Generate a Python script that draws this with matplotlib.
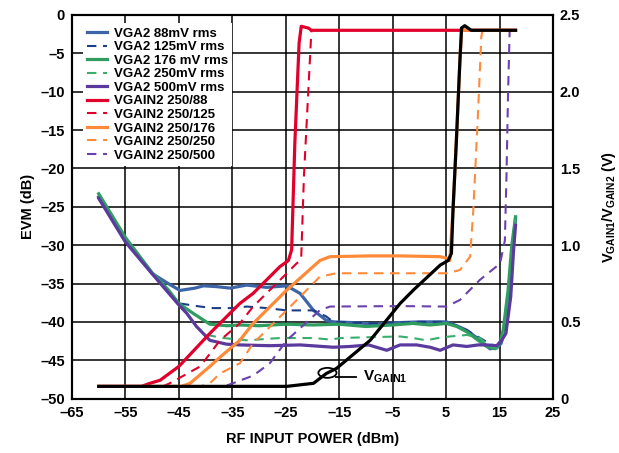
import numpy as np
import matplotlib
matplotlib.use("Agg")
import matplotlib.pyplot as plt
from matplotlib.patches import Ellipse
from matplotlib.ticker import FuncFormatter

plt.rcParams['font.family'] = ['Liberation Sans', 'DejaVu Sans']
plt.rcParams['font.weight'] = 'bold'
plt.rcParams['mathtext.fontset'] = 'custom'
plt.rcParams['mathtext.rm'] = 'Liberation Sans:bold'
plt.rcParams['mathtext.bf'] = 'Liberation Sans:bold'

# ---- EVM curves (left axis, dB) ----
vga88_x = [-60, -55, -50, -47, -44.8, -42, -40.4, -38, -35.4, -32.3, -28.6, -24.8, -22.3, -19.8, -17.4,
           -16, -12, -8, -4, 0, 3, 5.1, 7, 8.9, 11, 13.2, 14.5, 15.3, 16.2, 17, 17.5, 18]
vga88_y = [-23.7, -29.3, -33.7, -35.0, -35.9, -35.6, -35.3, -35.4, -35.6, -35.2, -35.5, -35.3, -36.3, -38.5, -39.8,
           -40.0, -40.1, -40.3, -40.1, -40.0, -40.0, -40.0, -40.5, -41.1, -42.2, -43.5, -43.4, -42.8, -40.5, -36, -30, -26.5]

vga125_x = [-44.8, -41, -38.6, -35, -32.3, -28.6, -24.8, -22.3, -19.8, -17.4, -16.1, -12, -8, -4, 0, 5.1,
            8.9, 12.6, 14.5, 15.4, 16.2, 17, 17.5, 18]
vga125_y = [-37.6, -38.0, -38.2, -38.2, -38.0, -38.2, -38.5, -38.5, -38.5, -39.3, -40.0, -40.1, -40.2, -40.1, -40.0, -40.0,
            -41.1, -42.6, -43.3, -42.6, -40.5, -36, -30, -26.5]

vga176_x = [-60, -55, -50, -47, -45, -42.3, -39.2, -36, -33.6, -30, -25, -20, -15, -10, -5, -1.2, 2, 5.1,
            7, 8.9, 11, 12.6, 14.2, 15.2, 15.7, 16.6, 17.3, 18]
vga176_y = [-23.3, -29.0, -33.6, -35.8, -37.6, -38.9, -40.3, -40.5, -40.4, -40.5, -40.3, -40.4, -40.3, -40.6, -40.4, -40.2, -40.4, -40.2,
            -40.6, -41.3, -42.4, -43.2, -43.5, -42.5, -41, -35.9, -30, -26.3]

vga250_x = [-39.8, -36.7, -32.3, -26.1, -19.8, -16.7, -14.7, -9.8, -3.6, -1.2, 1.3, 3.5, 5.7, 8.9,
            11.3, 13.2, 14.5, 15.4, 16.2, 17, 17.5, 18]
vga250_y = [-41.7, -42.1, -42.4, -42.1, -42.1, -42.3, -42.1, -42.0, -41.9, -42.1, -42.4, -42.1, -41.9, -41.7,
            -42.1, -43.2, -43.4, -42.6, -40.5, -36, -30, -26.5]

vga500_x = [-60, -55, -49.8, -45, -43.5, -41.7, -39.2, -36.1, -33.6, -28, -22.3, -16.1, -12.9, -9.5, -6.1,
            -3.6, -0.5, 2, 3.9, 6.3, 8.9, 11, 12.6, 14.5, 15.4, 16.2, 17.1, 17.6, 18]
vga500_y = [-23.9, -29.6, -33.9, -37.8, -38.9, -40.6, -42.4, -42.9, -43.0, -43.1, -43.0, -43.3, -43.2, -43.0, -43.7,
            -43.0, -43.0, -43.3, -43.7, -43.0, -43.2, -43.0, -43.0, -43.1, -42.4, -41.5, -36.7, -31, -27.4]

# ---- gain control voltages (right axis, V) ----
g88_x = [-60, -52, -50.4, -48.5, -45, -39.2, -33.6, -31.1, -26.1, -24.5, -23.9, -23.3, -22.5, -22.1, -20.8, -20.2, 18]
g88_y = [0.08, 0.08, 0.10, 0.12, 0.21, 0.425, 0.62, 0.686, 0.86, 0.90, 0.97, 1.665, 2.318, 2.426, 2.415, 2.40, 2.40]

g125_x = [-60, -48, -46.7, -41, -37.3, -33.6, -31.1, -24.8, -23, -22.3, -22.1, -21.6, -20.8, -20.2]
g125_y = [0.08, 0.08, 0.10, 0.21, 0.38, 0.49, 0.60, 0.817, 0.88, 0.90, 0.925, 1.447, 1.99, 2.40]

g176_x = [-60, -44.5, -42.9, -39.2, -37.3, -33.6, -31.1, -24.8, -18.6, -16.7, -9.2, -3.6, 3.9, 5.1, 5.7,
          6.3, 6.9, 7.6, 7.9, 18]
g176_y = [0.08, 0.08, 0.10, 0.21, 0.27, 0.38, 0.49, 0.708, 0.90, 0.925, 0.93, 0.93, 0.925, 0.915, 0.90,
          1.23, 1.66, 2.21, 2.40, 2.40]

g250_x = [-60, -41, -39.2, -37.3, -33.6, -31.1, -24.8, -18.6, -15.5, -3.6, 5.1, 7.6, 9.5, 10.1, 11, 11.6, 11.9]
g250_y = [0.08, 0.08, 0.10, 0.164, 0.23, 0.36, 0.577, 0.795, 0.817, 0.817, 0.817, 0.838, 0.925, 1.23, 1.88, 2.36, 2.415]

g500_x = [-60, -36.5, -34.9, -31.1, -28, -24.8, -18.6, -16.7, -3.6, 5.1, 7.6, 11.3, 15.1, 16, 16.3, 16.6, 16.9]
g500_y = [0.08, 0.08, 0.10, 0.15, 0.23, 0.38, 0.577, 0.60, 0.603, 0.60, 0.643, 0.773, 0.88, 1.03, 1.447, 1.99, 2.40]

gain1_x = [-60, -30, -24.8, -19.8, -17.4, -15.5, -9.2, -3.6, -1.1, 3.9, 5.4, 6.0, 6.3, 6.9, 7.6, 7.9, 8.5, 9.7, 18]
gain1_y = [0.08, 0.08, 0.08, 0.10, 0.164, 0.197, 0.38, 0.62, 0.708, 0.87, 0.90, 0.947, 1.23, 1.66, 2.21, 2.415, 2.43, 2.40, 2.40]

x_ticks = [-65, -55, -45, -35, -25, -15, -5, 5, 15, 25]
evm_ticks = [0, -5, -10, -15, -20, -25, -30, -35, -40, -45, -50]
v_ticks = [0, 0.5, 1.0, 1.5, 2.0, 2.5]
v_labels = ['0', '0.5', '1.0', '1.5', '2.0', '2.5']

blue = '#3d64a6'
navy = '#1c3d88'
green = '#2f9d5f'
green2 = '#3aae6c'
purple = '#5b3a9e'
red = '#e0002b'
orange = '#ff8a3a'
purple2 = '#6a42ad'

fig = plt.figure(figsize=(6.19, 4.53), dpi=100)
ax = fig.add_axes([0.1163, 0.12, 0.7770, 0.847])
ax2 = ax.twinx()

solid_lw = 2.3
dash_lw = 1.5
dash = (0, (4.5, 3.2))

ax.plot(vga88_x, vga88_y, color=blue, lw=solid_lw, label='VGA2 88mV rms', zorder=3)
ax.plot(vga125_x, vga125_y, color=navy, lw=dash_lw, ls=dash, label='VGA2 125mV rms', zorder=3)
ax.plot(vga176_x, vga176_y, color=green, lw=solid_lw, label='VGA2 176 mV rms', zorder=3)
ax.plot(vga250_x, vga250_y, color=green2, lw=dash_lw, ls=dash, label='VGA2 250mV rms', zorder=3)
ax.plot(vga500_x, vga500_y, color=purple, lw=solid_lw, label='VGA2 500mV rms', zorder=3)

ax2.plot(g88_x, g88_y, color=red, lw=solid_lw, label='VGAIN2 250/88')
ax2.plot(g125_x, g125_y, color=red, lw=dash_lw, ls=dash, label='VGAIN2 250/125')
ax2.plot(g176_x, g176_y, color=orange, lw=solid_lw, label='VGAIN2 250/176')
ax2.plot(g250_x, g250_y, color=orange, lw=dash_lw, ls=dash, label='VGAIN2 250/250')
ax2.plot(g500_x, g500_y, color=purple2, lw=dash_lw, ls=dash, label='VGAIN2 250/500')
ax2.plot(gain1_x, gain1_y, color='black', lw=solid_lw)

# VGAIN1 callout
ax2.add_patch(Ellipse((-17.2, 0.168), 3.4, 0.065, fill=False, ec='black', lw=1.3))
ax2.plot([-15.6, -11.9], [0.142, 0.142], color='black', lw=1.3)
ax2.text(-10.6, 0.14, r'$\mathregular{V_{GAIN1}}$', fontsize=11, va='center', ha='left')

ax.set_xlim(-65, 25)
ax.set_ylim(-50, 0)
ax2.set_ylim(0, 2.5)
ax.set_xticks(x_ticks)
ax.set_yticks(evm_ticks)
ax2.set_yticks(v_ticks)
ax2.set_yticklabels(v_labels)
ax.xaxis.set_major_formatter(FuncFormatter(lambda v, p: ('%d' % v).replace('-', '\u2013')))
ax.yaxis.set_major_formatter(FuncFormatter(lambda v, p: ('%d' % v).replace('-', '\u2013')))

ax.grid(True, color='black', lw=1.1)
ax.set_axisbelow(True)
for a in (ax, ax2):
    a.tick_params(length=0, labelsize=10.5, pad=5)
    for s in a.spines.values():
        s.set_linewidth(1.5)

ax.set_xlabel('RF INPUT POWER (dBm)', fontsize=10.5, fontweight='bold', labelpad=9)
ax.set_ylabel('EVM (dB)', fontsize=10.5, fontweight='bold', labelpad=4)
ax2.set_ylabel(r'$\mathregular{V_{GAIN1}/V_{GAIN2}}$ (V)', fontsize=10.5, fontweight='bold', labelpad=14)

h1, l1 = ax.get_legend_handles_labels()
h2, l2 = ax2.get_legend_handles_labels()
leg = ax2.legend(h1 + h2, l1 + l2, loc='upper left', bbox_to_anchor=(0.01, 0.995),
                 fontsize=9.5, frameon=True, framealpha=1, edgecolor='none', fancybox=False,
                 labelspacing=0.1, handlelength=1.5, handletextpad=0.55, borderpad=0.3)
leg.set_zorder(5)

fig.savefig('out.png', dpi=100)
